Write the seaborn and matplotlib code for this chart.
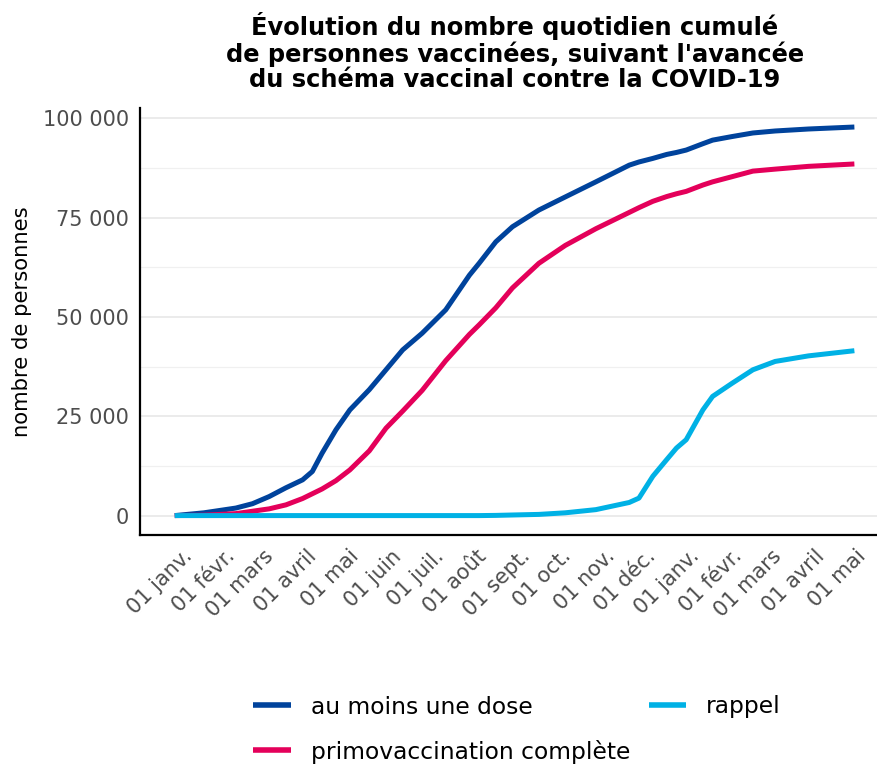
import matplotlib
matplotlib.use("Agg")
import matplotlib.pyplot as plt
import matplotlib.ticker as mticker
import seaborn as sns
import pandas as pd

dates = ["2020-12-27", "2021-01-17", "2021-02-09", "2021-02-21", "2021-03-05", "2021-03-17",
         "2021-03-29", "2021-04-05", "2021-04-12", "2021-04-22", "2021-05-02", "2021-05-16",
         "2021-05-28", "2021-06-09", "2021-06-23", "2021-07-10", "2021-07-27", "2021-08-03",
         "2021-08-15", "2021-08-27", "2021-09-15", "2021-10-04", "2021-10-26", "2021-11-19",
         "2021-11-26", "2021-12-06", "2021-12-16", "2021-12-23", "2021-12-30", "2022-01-11",
         "2022-01-18", "2022-02-01", "2022-02-16", "2022-03-04", "2022-03-28", "2022-04-30"]

au_moins_une_dose = [0, 700, 1900, 3000, 4800, 7000,
                     9000, 11100, 15700, 21600, 26600, 31700,
                     36700, 41700, 45900, 51800, 60500, 63500,
                     68900, 72700, 76900, 80200, 84000, 88200,
                     89000, 89900, 90900, 91400, 92000, 93600,
                     94500, 95400, 96300, 96800, 97300, 97800]

primovaccination = [0, 100, 500, 1100, 1700, 2700,
                    4300, 5500, 6700, 8800, 11500, 16300,
                    22000, 26300, 31500, 39000, 45600, 48000,
                    52300, 57300, 63500, 68000, 72200, 76300,
                    77500, 79100, 80300, 81000, 81600, 83200,
                    84000, 85300, 86700, 87200, 87900, 88500]

rappel = [0, 0, 0, 0, 0, 0,
          0, 0, 0, 0, 0, 0,
          0, 0, 0, 0, 0, 0,
          50, 150, 300, 700, 1500, 3300,
          4400, 9900, 14100, 17000, 19100, 26600,
          30000, 33300, 36700, 38800, 40200, 41500]

series_names = ["au moins une dose", "primovaccination complète", "rappel"]
series_colors = ["#00439C", "#E4005A", "#00B1E5"]

tick_dates = ["2021-01-01", "2021-02-01", "2021-03-01", "2021-04-01", "2021-05-01", "2021-06-01",
              "2021-07-01", "2021-08-01", "2021-09-01", "2021-10-01", "2021-11-01", "2021-12-01",
              "2022-01-01", "2022-02-01", "2022-03-01", "2022-04-01", "2022-05-01"]
tick_labels = ["01 janv.", "01 févr.", "01 mars", "01 avril", "01 mai", "01 juin", "01 juil.",
               "01 août", "01 sept.", "01 oct.", "01 nov.", "01 déc.", "01 janv.", "01 févr.",
               "01 mars", "01 avril", "01 mai"]
y_ticks = [0, 25000, 50000, 75000, 100000]
y_tick_labels = ["0", "25 000", "50 000", "75 000", "100 000"]

title = "Évolution du nombre quotidien cumulé\nde personnes vaccinées, suivant l'avancée\ndu schéma vaccinal contre la COVID-19"
ylabel = "nombre de personnes"

sns.set_theme(style="white")
plt.rcParams['font.family'] = ['DejaVu Sans']
plt.rcParams['text.color'] = 'black'
plt.rcParams['axes.labelcolor'] = 'black'

df = pd.DataFrame({
    "date": pd.to_datetime(dates * 3),
    "valeur": au_moins_une_dose + primovaccination + rappel,
    "serie": [series_names[0]] * len(dates) + [series_names[1]] * len(dates) + [series_names[2]] * len(dates),
})

fig = plt.figure(figsize=(8.78, 7.65), dpi=100)
ax = fig.add_axes([140 / 878, 1 - 535 / 765, 1 - 140 / 878, (535 - 108) / 765])

sns.lineplot(data=df, x="date", y="valeur", hue="serie", hue_order=series_names,
             palette=series_colors, linewidth=3.6, ax=ax, legend=True)
for line in ax.get_lines():
    line.set_solid_capstyle("butt")

ax.set_xlim(pd.Timestamp("2020-12-02"), pd.Timestamp("2022-05-17"))
ax.set_ylim(-4885, 102585)

ax.set_yticks(y_ticks)
ax.set_yticklabels(y_tick_labels)
ax.yaxis.set_minor_locator(mticker.MultipleLocator(12500))
ax.grid(False)
ax.grid(axis="y", which="major", color="#EBEBEB", linewidth=1.4)
ax.grid(axis="y", which="minor", color="#F0F0F0", linewidth=0.9)
ax.tick_params(axis="y", which="minor", length=0)
ax.set_axisbelow(True)

ax.set_xticks(pd.to_datetime(tick_dates))
ax.set_xticklabels(tick_labels, rotation=45, ha="right", rotation_mode="anchor")

ax.tick_params(axis="both", which="major", direction="out", length=5, width=1.1,
               color="#333333", labelcolor="#4D4D4D", labelsize=15, pad=3)
for s in ["top", "right"]:
    ax.spines[s].set_visible(False)
for s in ["left", "bottom"]:
    ax.spines[s].set_color("black")
    ax.spines[s].set_linewidth(1.6)

ax.set_xlabel("")
ax.set_ylabel(ylabel, fontsize=15.2, color="black", labelpad=8)

handles, labels = ax.get_legend_handles_labels()
ax.get_legend().remove()
leg = fig.legend(handles, labels, loc="center", bbox_to_anchor=(517 / 878, 1 - 729.5 / 765),
                 ncol=2, frameon=False, fontsize=16.8, handlelength=1.6, handletextpad=0.85,
                 columnspacing=0.8, labelspacing=0.9)
for line in leg.get_lines():
    line.set_linewidth(4)
    line.set_solid_capstyle("butt")
for t in leg.get_texts():
    t.set_color("black")

fig.text(515 / 878, 1 - 52 / 765, title, ha="center", va="center", fontsize=17.4,
         fontweight="bold", linespacing=1.05, color="black")

fig.savefig("out.png", dpi=100)
